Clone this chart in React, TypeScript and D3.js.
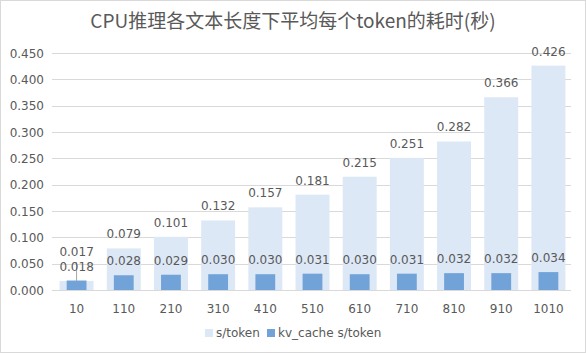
import React from "react";
import * as d3 from "d3";

const categories = ["10", "110", "210", "310", "410", "510", "610", "710", "810", "910", "1010"];
const sToken = [0.017, 0.079, 0.101, 0.132, 0.157, 0.181, 0.215, 0.251, 0.282, 0.366, 0.426];
const kvToken = [0.018, 0.028, 0.029, 0.03, 0.03, 0.031, 0.03, 0.031, 0.032, 0.032, 0.034];
const yTicks = [0, 0.05, 0.1, 0.15, 0.2, 0.25, 0.3, 0.35, 0.4, 0.45];
const seriesNames = ["s/token", "kv_cache s/token"];

const W = 586;
const H = 353;
const textColor = "#595959";
const lightBlue = "#dde8f6";
const midBlue = "#72a3d8";
const font = "'DejaVu Sans', sans-serif";

export default function App() {
  const x = d3.scaleBand<string>().domain(categories).range([53, 572]).paddingInner(0).paddingOuter(0);
  const y = d3.scaleLinear().domain([0, 0.45]).range([290, 53]);
  const bw = x.bandwidth();
  const wideW = bw * 0.72;
  const narrowW = bw * 0.42;
  return (
    <svg width={W} height={H} style={{ position: "absolute", left: 0, top: 0, background: "#fff" }}>
      <rect x={0.5} y={0.5} width={W - 1} height={H - 1} fill="#fff" stroke="#d9d9d9" />
      <text x={293} y={28} textAnchor="middle" fontSize={19} fill={textColor} fontFamily="'Noto Sans CJK SC', sans-serif">
        CPU推理各文本长度下平均每个token的耗时(秒)
      </text>
      {yTicks.map((t) => (
        <g key={t}>
          <line x1={52} x2={571} y1={Math.round(y(t)) + 0.5} y2={Math.round(y(t)) + 0.5} stroke="#d9d9d9" />
          <text x={44} y={y(t) + 4.5} textAnchor="end" fontSize={12} fill={textColor} fontFamily={font}>
            {t.toFixed(3)}
          </text>
        </g>
      ))}
      {categories.map((c, i) => {
        const cx = (x(c) as number) + bw / 2;
        return (
          <g key={c}>
            <rect x={cx - wideW / 2} y={y(sToken[i])} width={wideW} height={y(0) - y(sToken[i])} fill={lightBlue} />
            <rect x={cx - narrowW / 2} y={y(kvToken[i])} width={narrowW} height={y(0) - y(kvToken[i])} fill={midBlue} />
            <text x={cx} y={308 + 4.5} textAnchor="middle" fontSize={12} fill={textColor} fontFamily={font}>
              {c}
            </text>
          </g>
        );
      })}
      {categories.map((c, i) => {
        const cx = (x(c) as number) + bw / 2;
        const first = i === 0;
        const sy = first ? 256 : y(sToken[i]) - 10;
        return (
          <g key={"l" + c}>
            {first && <line x1={cx} x2={cx} y1={262} y2={y(sToken[i])} stroke="#a6a6a6" />}
            <text x={cx} y={sy} textAnchor="middle" fontSize={12} fill={textColor} fontFamily={font}>
              {sToken[i].toFixed(3)}
            </text>
            <text x={cx} y={y(kvToken[i]) - 10} textAnchor="middle" fontSize={12} fill={textColor} fontFamily={font}>
              {kvToken[i].toFixed(3)}
            </text>
          </g>
        );
      })}
      <g>
        <rect x={205} y={329} width={8} height={8} fill={lightBlue} />
        <text x={216} y={337} fontSize={12} fill={textColor} fontFamily={font}>{seriesNames[0]}</text>
        <rect x={267} y={329} width={8} height={8} fill={midBlue} />
        <text x={278} y={337} fontSize={12} fill={textColor} fontFamily={font}>{seriesNames[1]}</text>
      </g>
    </svg>
  );
}
